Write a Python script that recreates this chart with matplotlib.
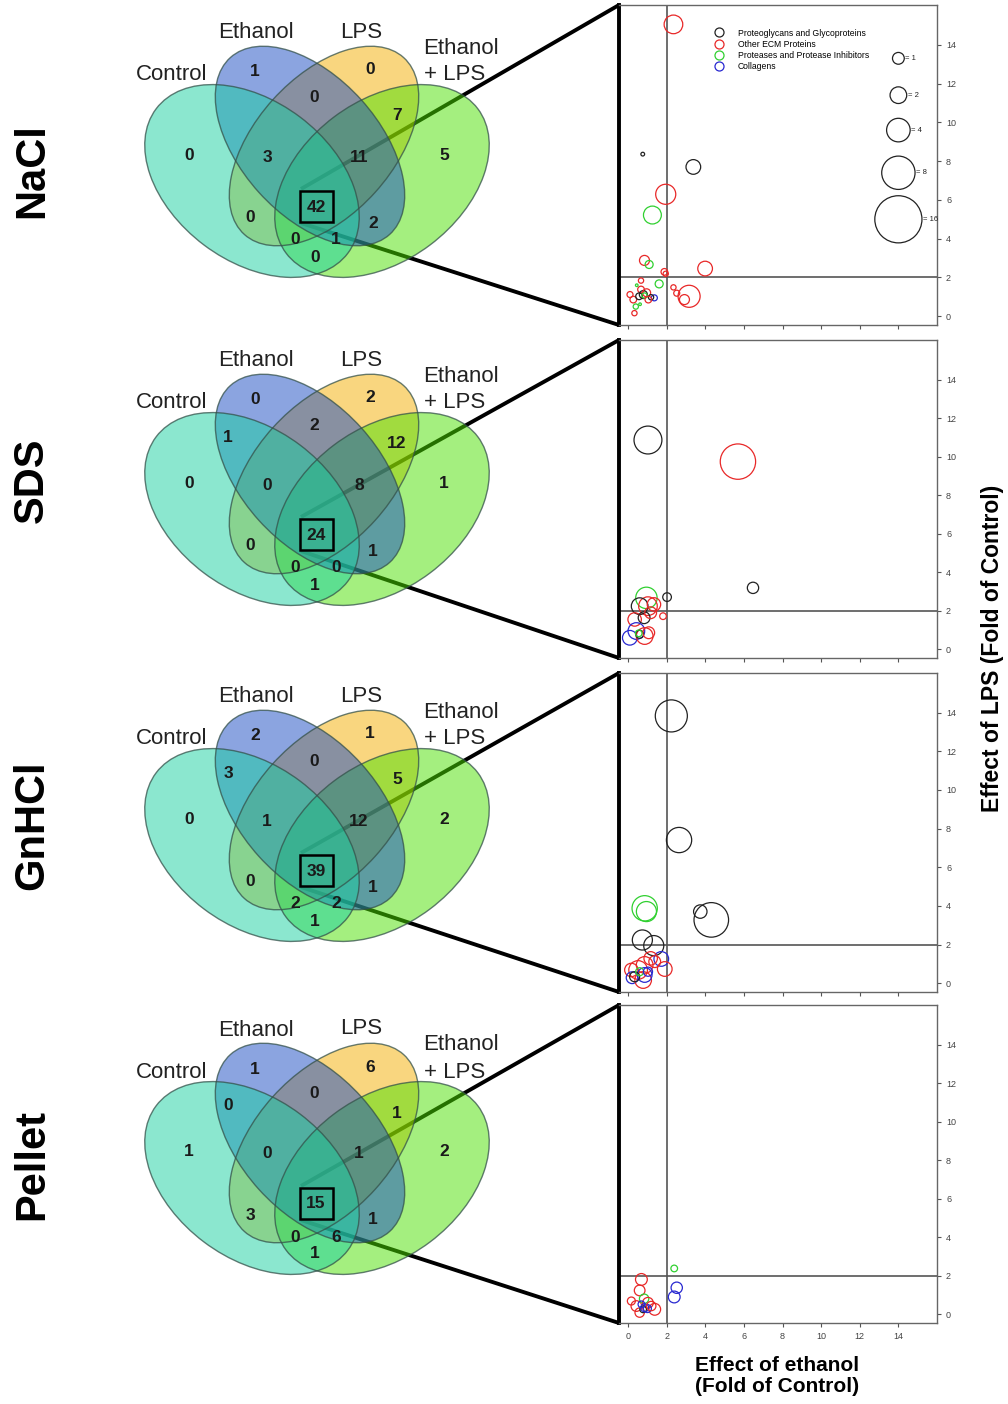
import numpy as np
import matplotlib
matplotlib.use("Agg")
import matplotlib.pyplot as plt
from matplotlib.patches import Ellipse, Rectangle
from matplotlib.lines import Line2D

plt.rcParams['font.family'] = ['Liberation Sans', 'DejaVu Sans']

conditions = ["NaCl", "SDS", "GnHCl", "Pellet"]
set_names = ["Control", "Ethanol", "LPS", "Ethanol", "+ LPS"]

# venn regions: E, L, EL, CE, LX, C, X, CEL, ELX, CL, EX, CELX, CLX, CEX, CX
nacl_counts = [1, 0, 0, None, 7, 0, 5, 3, 11, 0, 2, 42, 0, 1, 0]
sds_counts = [0, 2, 2, 1, 12, 0, 1, 0, 8, 0, 1, 24, 0, 0, 1]
gnhcl_counts = [2, 1, 0, 3, 5, 0, 2, 1, 12, 0, 1, 39, 2, 2, 1]
pellet_counts = [1, 6, 0, 0, 1, 1, 2, 0, 1, 3, 1, 15, 0, 6, 1]

categories = ["Proteoglycans and Glycoproteins", "Other ECM Proteins",
              "Proteases and Protease Inhibitors", "Collagens"]
cat_colors = ["#222222", "#e82828", "#30d030", "#2828d0"]

# bubbles: fold ethanol, fold LPS, size, category
nacl_x = [2.35, 0.76, 3.38, 1.95, 1.26, 0.85, 1.09, 3.99, 1.88, 1.95, 1.61, 3.16, 2.92, 2.35, 2.52,
          0.67, 0.67, 0.10, 0.27, 0.57, 0.79, 0.96, 0.85, 1.36, 1.19, 1.05, 0.40, 0.33, 0.62, 0.45]
nacl_y = [15.05, 8.36, 7.7, 6.29, 5.22, 2.88, 2.67, 2.46, 2.29, 2.19, 1.67, 1.03, 0.86, 1.49, 1.19,
          1.84, 1.38, 1.12, 0.86, 1.03, 1.12, 1.21, 1.07, 0.95, 0.98, 0.86, 0.50, 0.16, 0.62, 1.60]
nacl_n = [2.5, 0.1, 1.55, 2.9, 2.3, 0.72, 0.46, 1.55, 0.32, 0.2, 0.46, 3.5, 0.72, 0.2, 0.26,
          0.2, 0.32, 0.26, 0.32, 0.32, 0.46, 0.46, 0.2, 0.26, 0.2, 0.32, 0.2, 0.2, 0.05, 0.05]
nacl_c = [1, 0, 0, 1, 2, 1, 2, 1, 1, 1, 2, 1, 1, 1, 1,
          1, 1, 1, 1, 0, 0, 1, 2, 3, 0, 1, 2, 1, 2, 2]

sds_x = [1.03, 5.69, 6.47, 2.02, 0.95, 1.03, 0.60, 1.34, 0.34, 0.83, 1.81, 1.17, 0.09, 0.43, 0.86, 0.60, 1.07, 0.55]
sds_y = [10.86, 9.74, 3.19, 2.71, 2.67, 2.24, 2.24, 2.33, 1.55, 1.64, 1.72, 1.90, 0.60, 0.95, 0.69, 0.78, 0.86, 0.83]
sds_n = [5.6, 9.0, 0.92, 0.54, 3.3, 2.5, 2.0, 1.3, 1.3, 1.0, 0.32, 1.0, 1.55, 2.0, 2.0, 0.46, 1.0, 0.32]
sds_c = [0, 1, 0, 0, 2, 1, 0, 1, 1, 0, 1, 1, 3, 3, 1, 0, 1, 2]

gnhcl_x = [2.24, 2.64, 0.86, 0.95, 3.74, 4.31, 0.74, 1.33, 1.72, 1.17, 1.90, 0.86, 0.52, 0.17, 0.21,
           0.78, 0.86, 0.34, 0.60, 1.38, 1.03]
gnhcl_y = [13.83, 7.41, 3.88, 3.71, 3.71, 3.28, 2.24, 1.95, 1.26, 1.29, 0.74, 0.95, 0.69, 0.69, 0.29,
           0.17, 0.43, 0.34, 0.60, 1.12, 0.60]
gnhcl_n = [7.4, 4.6, 4.6, 2.9, 1.3, 8.6, 2.9, 2.9, 1.55, 1.3, 1.55, 2.0, 2.5, 1.3, 1.0,
           2.0, 1.55, 0.72, 0.46, 1.0, 0.6]
gnhcl_c = [0, 0, 2, 2, 0, 0, 0, 0, 3, 1, 1, 1, 1, 1, 3, 1, 3, 0, 2, 1, 3]

pellet_x = [2.39, 2.52, 2.39, 0.69, 0.60, 0.17, 0.43, 0.83, 1.03, 1.38, 0.60, 0.78, 0.86, 1.00, 1.20, 0.69]
pellet_y = [2.38, 1.38, 0.90, 1.81, 1.24, 0.69, 0.43, 0.81, 0.60, 0.26, 0.09, 0.26, 0.34, 0.30, 0.43, 0.52]
pellet_n = [0.32, 0.92, 1.0, 1.0, 0.82, 0.46, 0.82, 0.63, 0.82, 1.0, 0.63, 0.32, 0.46, 0.46, 0.63, 0.32]
pellet_c = [2, 3, 3, 1, 1, 1, 1, 2, 1, 1, 1, 0, 3, 3, 1, 3]

key_sizes = [1, 2, 4, 8, 16]
key_y = [13.3, 11.4, 9.6, 7.4, 5.0]

all_counts = [nacl_counts, sds_counts, gnhcl_counts, pellet_counts]
all_bubbles = [(nacl_x, nacl_y, nacl_n, nacl_c), (sds_x, sds_y, sds_n, sds_c),
               (gnhcl_x, gnhcl_y, gnhcl_n, gnhcl_c), (pellet_x, pellet_y, pellet_n, pellet_c)]

# layout (pixels)
W, H = 1008, 1404
row_off = [0, 328, 664, 997]
panel_top = [5, 340, 673, 1005]
panel_bot = [325, 658, 992, 1323]
row_label_y = [171, 480, 825, 1165]
region_pos = [(255, 72), (370, 70), (314, 97), (228, 109), (397, 116), (189, 155), (444, 155),
              (267, 157), (359, 157), (250, 218), (373, 223), (316, 207), (295, 240), (336, 240), (315, 257)]
# ellipses drawn bottom to top: LPS, Ethanol+LPS, Ethanol, Control
ellipses = [((324, 146), 238, 138, -48, "#f5af00"),
            ((382, 181), 240, 160, -37, "#4be100"),
            ((310, 146), 238, 138, 48, "#194bc3"),
            ((252, 181), 240, 160, 37, "#19d1a1")]
label_pos = [(172, 75), (256, 33), (361, 32), (461, 48), (455, 75)]

fig = plt.figure(figsize=(W / 100, H / 100), dpi=100)
ov = fig.add_axes([0, 0, 1, 1])
ov.set_xlim(0, W)
ov.set_ylim(H, 0)
ov.axis('off')

for i, cond in enumerate(conditions):
    oy = row_off[i]
    # connector lines
    ov.plot([301, 619], [oy + 189, panel_top[i]], color='k', lw=2.8, zorder=1, solid_capstyle='butt')
    ov.plot([301, 619], [oy + 223, panel_bot[i]], color='k', lw=2.8, zorder=1, solid_capstyle='butt')
    for (cx, cy), w, h, ang, col in ellipses:
        ov.add_patch(Ellipse((cx, cy + oy), w, h, angle=ang, fc=col, alpha=0.5, ec='none', zorder=2))
    for (cx, cy), w, h, ang, col in ellipses:
        ov.add_patch(Ellipse((cx, cy + oy), w, h, angle=ang, fc='none', ec='#34514a', lw=1.0, alpha=0.75, zorder=3))
    for (lx, ly), name in zip(label_pos, set_names):
        ov.text(lx, ly + oy, name, ha='center', va='center', fontsize=16, color='#222222', zorder=4)
    for (rx, ry), val in zip(region_pos, all_counts[i]):
        if val is None:
            continue
        ov.text(rx, ry + oy, str(val), ha='center', va='center', fontsize=12.5, fontweight='bold',
                color='#1a1a1a', zorder=4)
    ov.add_patch(Rectangle((300, oy + 191), 33, 31, fill=False, ec='k', lw=1.8, zorder=4))
    fig.text(32 / W, 1 - row_label_y[i] / H, cond, rotation=90, ha='center', va='center',
             fontsize=30, fontweight='bold')

    # bubble panel
    ax = fig.add_axes([619 / W, 1 - panel_bot[i] / H, 318 / W, (panel_bot[i] - panel_top[i]) / H])
    bx, by, bn, bc = all_bubbles[i]
    for x, y, n, c in zip(bx, by, bn, bc):
        ax.scatter(x, y, s=72 * n, facecolors='none', edgecolors=cat_colors[c], linewidths=0.9, zorder=3)
    ax.axvline(2, color='#555555', lw=1.2, zorder=1)
    ax.axhline(2, color='#555555', lw=1.2, zorder=1)
    ax.set_xlim(-0.47, 16.0)
    ax.set_ylim(-0.45, 16.05)
    ax.set_xticks(np.arange(0, 15, 2))
    ax.set_yticks(np.arange(0, 15, 2))
    ax.yaxis.tick_right()
    ax.tick_params(axis='both', length=3, width=0.8, colors='#555555', labelsize=6.5, labelcolor='#444444')
    if i < 3:
        ax.set_xticklabels([])
    for s in ['top', 'right', 'bottom']:
        ax.spines[s].set_color('#666666')
        ax.spines[s].set_linewidth(1.0)
    ax.spines['left'].set_color('k')
    ax.spines['left'].set_linewidth(2.8)

    if i == 0:
        handles = [Line2D([], [], ls='none', marker='o', markersize=6.5, mfc='none', mec=c, mew=0.9)
                   for c in cat_colors]
        ax.legend(handles, categories, loc='upper left', bbox_to_anchor=(0.285, 0.94), fontsize=6.2,
                  frameon=False, handletextpad=1.6, labelspacing=0.25, borderpad=0, handlelength=1.2)
        for k, ky in zip(key_sizes, key_y):
            ax.scatter(14, ky, s=72 * k, facecolors='none', edgecolors='#222222', linewidths=0.9)
            r = 5.9 * np.sqrt(k) / 19.3
            ax.text(14 + r + 0.05, ky, "= %d" % k, fontsize=5.5, va='center', ha='left', color='#222222')

fig.text(993 / W, 1 - 648 / H, "Effect of LPS (Fold of Control)", rotation=90, ha='center', va='center',
         fontsize=16.5, fontweight='bold')
fig.text(777 / W, 1 - 1376 / H, "Effect of ethanol\n(Fold of Control)", ha='center', va='center',
         fontsize=15, fontweight='bold', linespacing=1.1)

fig.savefig("out.png", dpi=100)
